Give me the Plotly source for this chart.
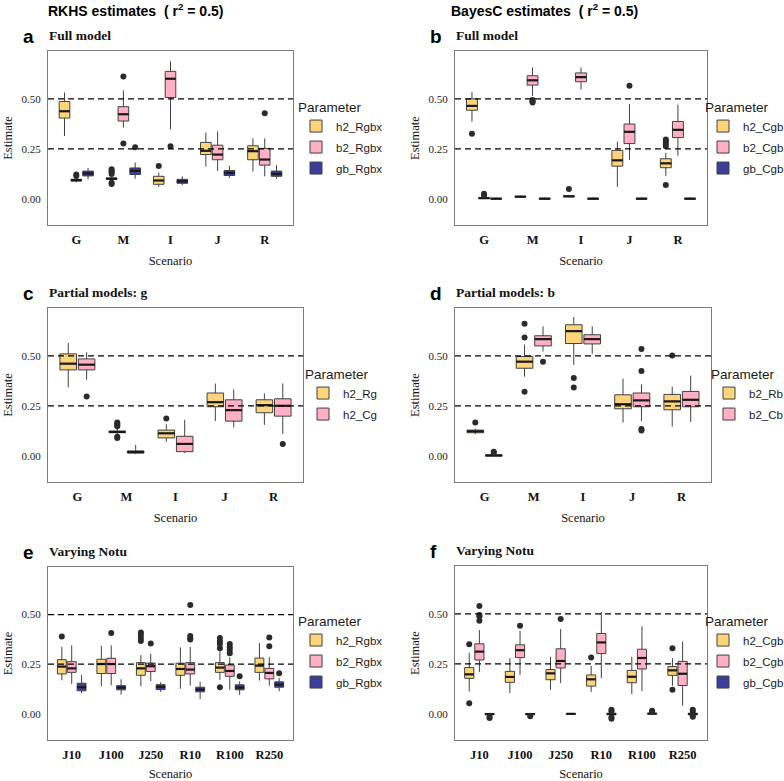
import plotly.graph_objects as go

W, H = 784, 781
SERIF = "Liberation Serif, DejaVu Serif, serif"
SANS = "Liberation Sans, Arial, sans-serif"

# ---------------- data ----------------
scen5 = ["G", "M", "I", "J", "R"]
scen6 = ["J10", "J100", "J250", "R10", "R100", "R250"]
names_rgbx = ["h2_Rgbx", "b2_Rgbx", "gb_Rgbx"]
names_cgb = ["h2_Cgb", "b2_Cgb", "gb_Cgb"]
names_g = ["h2_Rg", "h2_Cg"]
names_b = ["b2_Rb", "b2_Cb"]
ref_lines = [0.25, 0.50]
y_ticks = [0.0, 0.25, 0.50]
y_ticktext = ["0.00", "0.25", "0.50"]

# panel a : RKHS full model  (rows = h2, b2, gb ; cols = G M I J R)
a_lo = [[0.314, 0.090, 0.059, 0.161, 0.136], [0.082, 0.356, 0.347, 0.139, 0.112], [0.097, 0.100, 0.067, 0.104, 0.100]]
a_q1 = [[0.404, 0.096, 0.072, 0.221, 0.195], [0.088, 0.389, 0.507, 0.195, 0.168], [0.114, 0.121, 0.077, 0.116, 0.112]]
a_med = [[0.438, 0.100, 0.091, 0.240, 0.238], [0.093, 0.423, 0.601, 0.221, 0.196], [0.126, 0.139, 0.087, 0.129, 0.124]]
a_q3 = [[0.487, 0.104, 0.112, 0.282, 0.265], [0.097, 0.461, 0.638, 0.268, 0.252], [0.138, 0.154, 0.097, 0.141, 0.138]]
a_hi = [[0.532, 0.110, 0.131, 0.331, 0.302], [0.103, 0.542, 0.688, 0.337, 0.302], [0.154, 0.181, 0.112, 0.164, 0.168]]
a_out = [[[], [0.148, 0.140, 0.132, 0.124, 0.080, 0.074], [0.164], [], []],
         [[0.121, 0.113], [0.612, 0.277], [0.263], [], [0.428]],
         [[], [0.258], [], [], []]]

# panel b : BayesC full model
b_lo = [[0.386, 0.004, 0.006, 0.059, 0.114], [-0.002, 0.515, 0.547, 0.194, 0.215], [-0.007, -0.007, -0.007, -0.006, -0.006]]
b_q1 = [[0.443, 0.007, 0.009, 0.163, 0.155], [0.000, 0.569, 0.586, 0.276, 0.306], [-0.003, -0.003, -0.003, -0.003, -0.003]]
b_med = [[0.465, 0.010, 0.012, 0.192, 0.177], [0.003, 0.593, 0.609, 0.335, 0.345], [0.000, 0.000, 0.000, 0.000, 0.000]]
b_q3 = [[0.500, 0.012, 0.014, 0.242, 0.200], [0.005, 0.616, 0.630, 0.374, 0.387], [0.002, 0.002, 0.002, 0.002, 0.002]]
b_hi = [[0.534, 0.016, 0.018, 0.285, 0.230], [0.010, 0.657, 0.657, 0.475, 0.471], [0.006, 0.006, 0.006, 0.006, 0.006]]
b_out = [[[0.325], [], [0.049], [], [0.296, 0.286, 0.274, 0.263, 0.069]],
         [[0.024, 0.017], [0.495, 0.487, 0.482], [], [0.566], []],
         [[], [], [], [], []]]

# panel c : partial models g
c_lo = [[0.342, 0.105, 0.069, 0.174, 0.154], [0.381, 0.008, 0.013, 0.141, 0.109]]
c_q1 = [[0.430, 0.115, 0.089, 0.245, 0.215], [0.430, 0.013, 0.020, 0.173, 0.198]]
c_med = [[0.461, 0.119, 0.112, 0.268, 0.253], [0.456, 0.018, 0.059, 0.228, 0.250]]
c_q3 = [[0.510, 0.123, 0.128, 0.314, 0.280], [0.485, 0.024, 0.097, 0.280, 0.285]]
c_hi = [[0.565, 0.135, 0.158, 0.361, 0.312], [0.518, 0.054, 0.180, 0.332, 0.362]]
c_out = [[[], [0.166, 0.160, 0.154, 0.148, 0.095, 0.089], [0.186], [], []],
         [[0.297], [], [], [], [0.059]]]

# panel d : partial models b
d_lo = [[0.107, 0.396, 0.455, 0.166, 0.146], [-0.004, 0.522, 0.510, 0.174, 0.169]]
d_q1 = [[0.115, 0.438, 0.562, 0.235, 0.230], [-0.002, 0.550, 0.560, 0.245, 0.245]]
d_med = [[0.122, 0.471, 0.624, 0.258, 0.272], [0.001, 0.584, 0.584, 0.277, 0.280]]
d_q3 = [[0.128, 0.497, 0.656, 0.305, 0.307], [0.004, 0.601, 0.606, 0.314, 0.322]]
d_hi = [[0.135, 0.557, 0.695, 0.386, 0.346], [0.008, 0.648, 0.648, 0.357, 0.401]]
d_out = [[[0.166], [0.661, 0.592, 0.320], [0.389, 0.341], [], [0.502]],
         [[0.020, 0.015], [0.471], [], [0.534, 0.424, 0.133, 0.126], []]]

# panel e : RKHS varying Notu
e_lo = [[0.169, 0.139, 0.139, 0.126, 0.171, 0.168], [0.151, 0.144, 0.164, 0.142, 0.121, 0.142], [0.104, 0.097, 0.111, 0.074, 0.095, 0.114]]
e_q1 = [[0.201, 0.203, 0.194, 0.194, 0.209, 0.209], [0.209, 0.203, 0.213, 0.201, 0.189, 0.176], [0.116, 0.121, 0.122, 0.111, 0.121, 0.134]]
e_med = [[0.238, 0.251, 0.229, 0.226, 0.233, 0.243], [0.229, 0.251, 0.240, 0.223, 0.216, 0.206], [0.134, 0.132, 0.136, 0.122, 0.132, 0.147]]
e_q3 = [[0.273, 0.275, 0.258, 0.255, 0.258, 0.281], [0.263, 0.280, 0.256, 0.258, 0.246, 0.229], [0.154, 0.142, 0.147, 0.134, 0.146, 0.161]]
e_hi = [[0.338, 0.342, 0.296, 0.335, 0.315, 0.357], [0.345, 0.345, 0.302, 0.337, 0.285, 0.285], [0.196, 0.174, 0.159, 0.162, 0.164, 0.181]]
e_out = [[[0.390], [], [0.410, 0.397, 0.382, 0.367], [], [0.382, 0.365, 0.352, 0.330, 0.134], []],
         [[], [0.407], [0.355], [0.548, 0.392, 0.382, 0.375], [0.352, 0.335, 0.322, 0.305], [0.385, 0.340]],
         [[], [], [], [], [0.189], [0.204]]]

# panel f : BayesC varying Notu
f_lo = [[0.111, 0.103, 0.120, 0.109, 0.099, 0.140], [0.209, 0.194, 0.153, 0.178, 0.113, 0.040], [-0.008, -0.007, -0.005, -0.008, -0.004, -0.008]]
f_q1 = [[0.177, 0.157, 0.170, 0.138, 0.155, 0.192], [0.269, 0.281, 0.229, 0.301, 0.224, 0.141], [-0.005, -0.005, -0.003, -0.005, -0.002, -0.005]]
f_med = [[0.197, 0.184, 0.202, 0.172, 0.185, 0.217], [0.311, 0.318, 0.264, 0.357, 0.279, 0.200], [-0.002, -0.002, -0.001, -0.002, 0.000, -0.002]]
f_q3 = [[0.231, 0.212, 0.221, 0.194, 0.217, 0.236], [0.350, 0.345, 0.325, 0.402, 0.323, 0.262], [0.000, 0.000, 0.001, 0.002, 0.002, 0.002]]
f_hi = [[0.306, 0.278, 0.285, 0.239, 0.285, 0.278], [0.419, 0.416, 0.424, 0.510, 0.438, 0.362], [0.003, 0.003, 0.003, 0.006, 0.006, 0.006]]
f_out = [[[0.348, 0.052], [], [], [0.281], [], [0.328, 0.120]],
         [[0.540, 0.495, 0.487, 0.466], [0.441], [0.475], [], [], []],
         [[-0.022, -0.017], [-0.013], [], [0.020, 0.012, -0.019, -0.025], [0.015, 0.010], [0.019, 0.010, -0.010, -0.015]]]

# ---------------- style ----------------
FILLS = ["#FCD57A", "#FFB0C4", "#3D3D9E"]
EDGE = "#404040"
MEDIAN = "#1a1a1a"
FRAME = "#7a7a7a"

panels = [
    dict(letter="a", sub="Full model", cats=scen5, names=names_rgbx,
         st=(a_lo, a_q1, a_med, a_q3, a_hi, a_out), box=(48, 293, 51, 225), leg=(296, 94)),
    dict(letter="b", sub="Full model", cats=scen5, names=names_cgb,
         st=(b_lo, b_q1, b_med, b_q3, b_hi, b_out), box=(455, 707, 51, 225), leg=(703, 94)),
    dict(letter="c", sub="Partial models: g", cats=scen5, names=names_g,
         st=(c_lo, c_q1, c_med, c_q3, c_hi, c_out), box=(48, 303, 308, 482), leg=(303, 361)),
    dict(letter="d", sub="Partial models: b", cats=scen5, names=names_b,
         st=(d_lo, d_q1, d_med, d_q3, d_hi, d_out), box=(455, 711, 308, 482), leg=(709, 361)),
    dict(letter="e", sub="Varying Notu", cats=scen6, names=names_rgbx,
         st=(e_lo, e_q1, e_med, e_q3, e_hi, e_out), box=(48, 293, 567, 740), leg=(296, 608)),
    dict(letter="f", sub="Varying Notu", cats=scen6, names=names_cgb,
         st=(f_lo, f_q1, f_med, f_q3, f_hi, f_out), box=(455, 707, 566, 740), leg=(703, 608)),
]

fig = go.Figure()
layout = dict(
    width=W, height=H,
    margin=dict(l=0, r=0, t=0, b=0, autoexpand=False),
    paper_bgcolor="white", plot_bgcolor="white",
    showlegend=True, boxmode="overlay",
)
annotations = []
shapes = []

for i, p in enumerate(panels, start=1):
    sfx = "" if i == 1 else str(i)
    xa, ya = "x" + sfx, "y" + sfx
    leg_id = "legend" + sfx
    lo, q1, med, q3, hi, out = p["st"]
    n = len(p["names"])
    ncat = len(p["cats"])
    step = 0.75 / n
    bw = step * 0.9
    for k, name in enumerate(p["names"]):
        off = (k - (n - 1) / 2) * step
        pos = [j + 1 + off for j in range(ncat)]
        fig.add_trace(go.Box(
            x=pos, q1=q1[k], median=med[k], q3=q3[k],
            lowerfence=lo[k], upperfence=hi[k],
            width=bw, name=name, fillcolor=FILLS[k],
            line=dict(color=EDGE, width=1), whiskerwidth=0,
            boxpoints=False, hoverinfo="skip",
            xaxis=xa, yaxis=ya, legend=leg_id, showlegend=True,
            legendgroup=p["letter"] + "_" + name,
        ))
        mx, my = [], []
        for j in range(ncat):
            mx += [pos[j] - bw / 2, pos[j] + bw / 2, None]
            my += [med[k][j], med[k][j], None]
        fig.add_trace(go.Scatter(
            x=mx, y=my, mode="lines", line=dict(color=MEDIAN, width=2.2),
            showlegend=False, hoverinfo="skip", xaxis=xa, yaxis=ya))
        ox, oy = [], []
        for j in range(ncat):
            for v in out[k][j]:
                ox.append(pos[j])
                oy.append(v)
        if ox:
            fig.add_trace(go.Scatter(
                x=ox, y=oy, mode="markers",
                marker=dict(color="#2b2b2b", size=6, line=dict(width=0)),
                showlegend=False, hoverinfo="skip", xaxis=xa, yaxis=ya))

    L, R, T, B = p["box"]
    layout["xaxis" + sfx] = dict(
        domain=[L / W, R / W], anchor=ya, range=[0.4, ncat + 0.6],
        tickmode="array", tickvals=list(range(1, ncat + 1)), ticktext=p["cats"],
        tickfont=dict(family=SERIF, size=12.5, color="#111", weight="bold"),
        ticks="", ticklabelstandoff=3,
        showline=True, mirror=True, linecolor=FRAME, linewidth=1,
        showgrid=False, zeroline=False,
        title=dict(text="Scenario", font=dict(family=SERIF, size=12.5, color="#111"), standoff=10),
    )
    layout["yaxis" + sfx] = dict(
        domain=[1 - B / H, 1 - T / H], anchor=xa, range=[-0.132, 0.74],
        tickmode="array", tickvals=y_ticks, ticktext=y_ticktext,
        tickfont=dict(family=SERIF, size=11, color="#222"),
        ticks="", ticklabelstandoff=4,
        showline=True, mirror=True, linecolor=FRAME, linewidth=1,
        showgrid=False, zeroline=False,
        title=dict(text="Estimate", font=dict(family=SERIF, size=12.5, color="#111"), standoff=6),
    )
    for v in ref_lines:
        shapes.append(dict(type="line", xref=xa + " domain", x0=0, x1=1, yref=ya, y0=v, y1=v,
                           line=dict(color="black", width=1.3, dash="6px,4px"), layer="above"))
    lx, ly = p["leg"]
    layout[leg_id] = dict(
        x=lx / W, y=1 - ly / H, xanchor="left", yanchor="top",
        title=dict(text="Parameter", font=dict(family=SANS, size=13.5, color="#1a1a1a")),
        font=dict(family=SANS, size=11.5, color="#1a1a1a"),
        bgcolor="rgba(0,0,0,0)", traceorder="grouped", tracegroupgap=2,
        itemclick=False, itemdoubleclick=False,
    )
    # panel letter and subtitle
    annotations.append(dict(text="<b>%s</b>" % p["letter"], xref="paper", yref="paper",
                            x=(L - 27) / W, y=1 - (T - 15) / H, xanchor="left", yanchor="middle",
                            showarrow=False, font=dict(family=SANS, size=19, color="black")))
    annotations.append(dict(text="<b>%s</b>" % p["sub"], xref="paper", yref="paper",
                            x=(L - 1) / W, y=1 - (T - 16) / H, xanchor="left", yanchor="middle",
                            showarrow=False, font=dict(family=SERIF, size=13.5, color="#111")))

annotations.append(dict(text="<b>RKHS estimates  ( r<sup>2</sup> = 0.5)</b>", xref="paper", yref="paper",
                        x=46 / W, y=1 - 10 / H, xanchor="left", yanchor="middle", showarrow=False,
                        font=dict(family=SANS, size=14, color="black")))
annotations.append(dict(text="<b>BayesC estimates  ( r<sup>2</sup> = 0.5)</b>", xref="paper", yref="paper",
                        x=449 / W, y=1 - 10 / H, xanchor="left", yanchor="middle", showarrow=False,
                        font=dict(family=SANS, size=14, color="black")))

layout["annotations"] = annotations
layout["shapes"] = shapes
fig.update_layout(**layout)
fig.write_html("out.html", config={"displayModeBar": False},
               post_script="document.body.style.margin='0';")
